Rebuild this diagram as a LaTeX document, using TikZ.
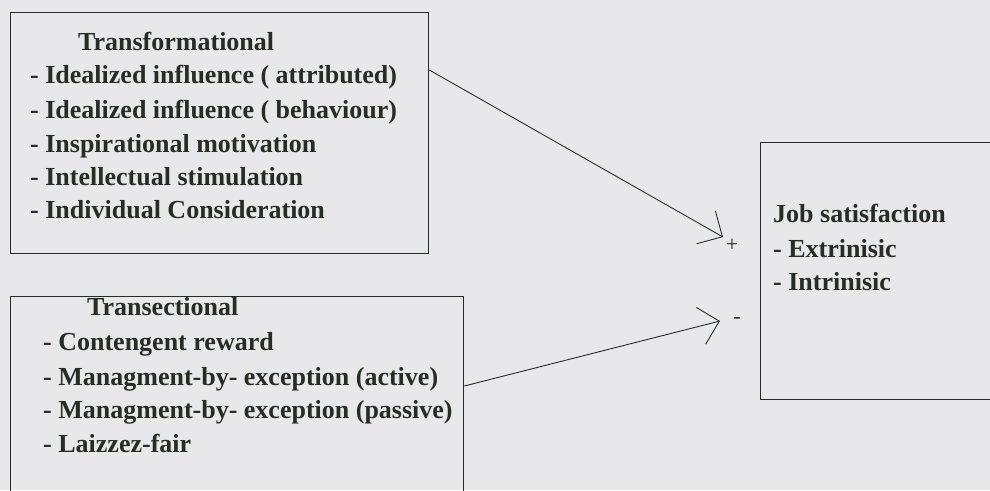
\documentclass[tikz,border=0pt]{standalone}
\usepackage{fontspec}
\setmainfont{Liberation Serif}
\usetikzlibrary{arrows.meta}
\definecolor{bg}{RGB}{232,232,235}
\definecolor{ink}{RGB}{38,46,36}
\tikzset{
  frame/.style={draw=ink, line width=1.3pt, anchor=north west, inner sep=0pt},
  txt/.style={anchor=base west, inner sep=0pt, text=ink, font=\fontsize{26}{30}\selectfont\bfseries},
  link/.style={draw=ink, line width=0.9pt, -{Straight Barb[length=19pt, width=38pt, line width=0.9pt]}},
  sign/.style={inner sep=0pt, text=ink, font=\fontsize{22}{26}\selectfont}
}
\begin{document}
\begin{tikzpicture}[x=1pt, y=-1pt]
\useasboundingbox (0,0) rectangle (990,490);
\fill[bg] (0,0) rectangle (990,490);
\clip (0,0) rectangle (990,490);
% boxes
\node[frame, minimum width=418pt, minimum height=241pt] (b1) at (10,12) {};
\node[frame, minimum width=453pt, minimum height=220pt] (b2) at (10,296) {};
\node[frame, minimum width=260pt, minimum height=257pt] (b3) at (760,142) {};
% texts box 1
\node[txt] (t1) at (78,50) {Transformational};
\node[txt] (t2) at (30,83) {- Idealized influence ( attributed)};
\node[txt] (t3) at (30,118) {- Idealized influence ( behaviour)};
\node[txt] (t4) at (30,152) {- Inspirational motivation};
\node[txt] (t5) at (30,185) {- Intellectual stimulation};
\node[txt] (t6) at (30,218) {- Individual Consideration};
% texts box 2
\node[txt] (s1) at (87,315) {Transectional};
\node[txt] (s2) at (43,350) {- Contengent reward};
\node[txt] (s3) at (43,385) {- Managment-by- exception (active)};
\node[txt] (s4) at (43,418) {- Managment-by- exception (passive)};
\node[txt] (s5) at (43,452) {- Laizzez-fair};
% texts box 3
\node[txt] (j1) at (773,222) {Job satisfaction};
\node[txt] (j2) at (773,257) {- Extrinisic};
\node[txt] (j3) at (773,290) {- Intrinisic};
% connectors
\coordinate (a1) at (b1.north east |- 0,70);
\coordinate (e1) at (723,237);
\coordinate (a2) at (b2.north east |- 0,386);
\coordinate (e2) at (720,321);
\draw[link] (a1) -- (e1);
\draw[link] (a2) -- (e2);
\node[sign] (plus) at (732,245) {+};
\node[sign] (minus) at (737,320) {-};
\end{tikzpicture}
\end{document}
